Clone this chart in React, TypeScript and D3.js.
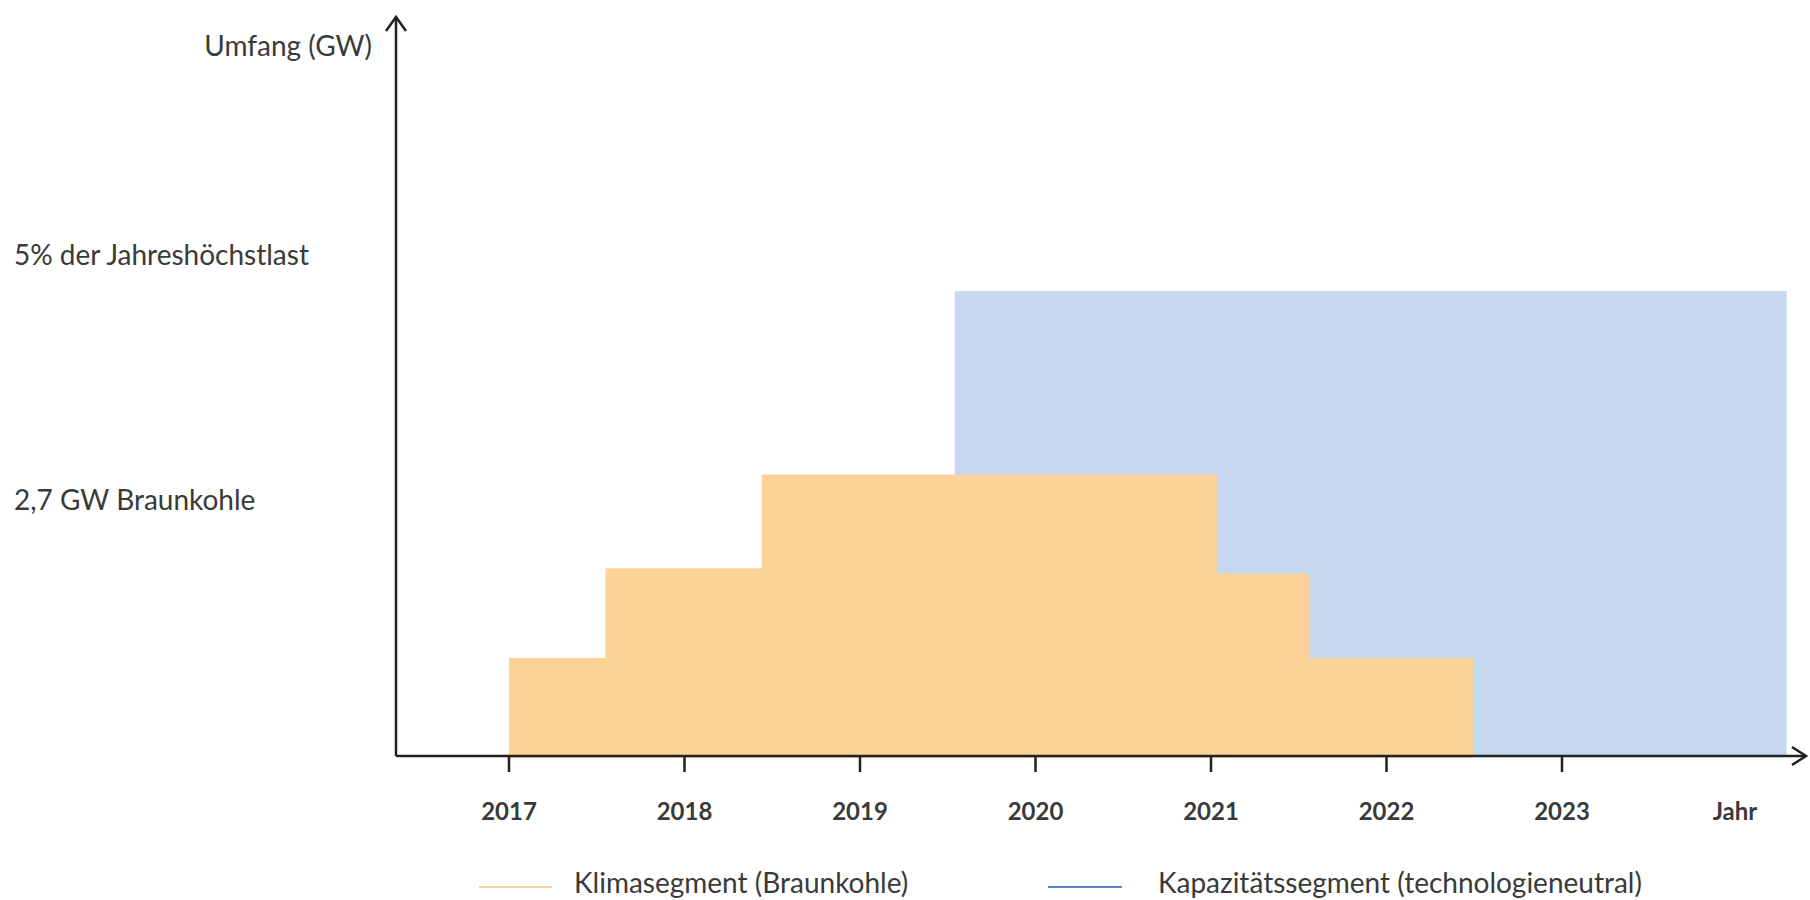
import * as d3 from "d3";

// Klimasegment steps (year start, year end, GW)
const klimaStart = [2017, 2017.55, 2018.44, 2021.03, 2021.56];
const klimaEnd = [2017.55, 2018.44, 2021.03, 2021.56, 2022.49];
const klimaValues = [0.94, 1.8, 2.7, 1.75, 0.94];

// Kapazitätssegment block
const kapStart = [2019.54];
const kapEnd = [2024.28];
const kapValues = [4.46];

const years = [2017, 2018, 2019, 2020, 2021, 2022, 2023];
const yLabels = ["5% der Jahreshöchstlast", "2,7 GW Braunkohle"];
const yLabelValues = [4.8, 2.45];
const legendLabels = ["Klimasegment (Braunkohle)", "Kapazitätssegment (technologieneutral)"];

const width = 1810;
const height = 900;
const font = "Lato, 'Open Sans', sans-serif";
const textColor = "#3a3a3a";
const axisColor = "#222";

export default function App() {
  const x = d3.scaleLinear([2017, 2023], [509, 1562]);
  const y = d3.scaleLinear([0, 7.1], [756, 16]);
  const x0 = 396;
  const xEnd = 1806;

  return (
    <svg
      width={width}
      height={height}
      style={{ position: "absolute", left: 0, top: 0, background: "#fff" }}
      fontFamily={font}
    >
      {kapStart.map((s, i) => (
        <rect
          key={"k" + i}
          x={x(s)}
          y={y(kapValues[i])}
          width={x(kapEnd[i]) - x(s)}
          height={y(0) - y(kapValues[i])}
          fill="#c6d8ef"
        />
      ))}
      {klimaStart.map((s, i) => (
        <rect
          key={"o" + i}
          x={x(s)}
          y={y(klimaValues[i])}
          width={x(klimaEnd[i]) - x(s) + 0.5}
          height={y(0) - y(klimaValues[i]) + 2}
          fill="#fdd296"
        />
      ))}

      {/* axes */}
      <g stroke={axisColor} strokeWidth={2.5} fill="none">
        <line x1={x0} y1={y(0)} x2={x0} y2={17} />
        <path d={`M${x0 - 10},31 L${x0},17 L${x0 + 10},31`} />
        <line x1={x0} y1={y(0)} x2={xEnd} y2={y(0)} />
        <path d={`M${xEnd - 14},${y(0) - 9} L${xEnd},${y(0)} L${xEnd - 14},${y(0) + 9}`} />
        {years.map((yr) => (
          <line key={yr} x1={x(yr)} y1={y(0)} x2={x(yr)} y2={y(0) + 16} />
        ))}
      </g>

      <g fill={textColor} fontSize={24} textAnchor="middle">
        {years.map((yr) => (
          <text key={yr} x={x(yr)} y={820} fontWeight={700}>
            {yr}
          </text>
        ))}
        <text x={1735} y={820} fontWeight={700}>
          Jahr
        </text>
      </g>

      <text x={372} y={56} fill={textColor} fontSize={28} textAnchor="end">
        Umfang (GW)
      </text>
      {yLabels.map((t, i) => (
        <text key={t} x={14} y={y(yLabelValues[i]) + 9} fill={textColor} fontSize={28}>
          {t}
        </text>
      ))}

      {/* legend */}
      <line x1={479} y1={887} x2={552} y2={887} stroke="#fad39c" strokeWidth={2} />
      <text x={574} y={893} fill={textColor} fontSize={28}>
        {legendLabels[0]}
      </text>
      <line x1={1048} y1={887} x2={1122} y2={887} stroke="#5b86c6" strokeWidth={2} />
      <text x={1158} y={893} fill={textColor} fontSize={28}>
        {legendLabels[1]}
      </text>
    </svg>
  );
}
